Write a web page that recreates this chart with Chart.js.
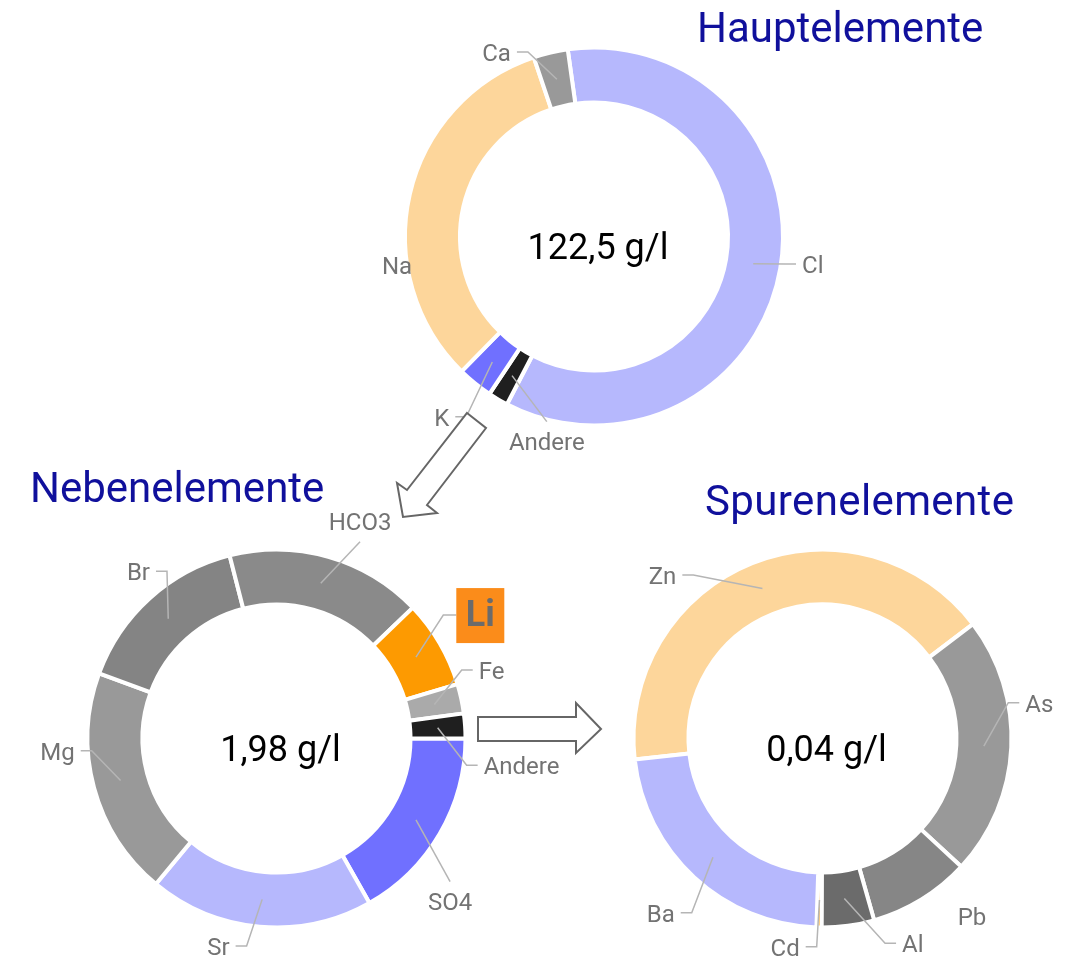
<!DOCTYPE html>
<html lang="de">
<head>
<meta charset="utf-8">
<title>Elemente</title>
<script src="https://cdn.jsdelivr.net/npm/chart.js@4.4.1/dist/chart.umd.min.js"></script>
<style>
  html, body { margin: 0; padding: 0; background: #fff; overflow: hidden; }
  body { width: 1066px; height: 963px; position: relative; font-family: Roboto, sans-serif; }
  canvas { position: absolute; }
  #c1 { left: 344px; top: 0px; }
  #c2 { left: 0px; top: 490px; }
  #c3 { left: 579px; top: 490px; }
  svg { position: absolute; left: 0; top: 0; pointer-events: none; }
</style>
</head>
<body>
<canvas id="c1" width="500" height="473"></canvas>
<canvas id="c2" width="620" height="497"></canvas>
<canvas id="c3" width="487" height="497"></canvas>

<svg width="1066" height="963" xmlns="http://www.w3.org/2000/svg">
  <g font-family="Roboto, sans-serif" font-size="42" fill="#10109c">
    <text x="697" y="42">Hauptelemente</text>
    <text x="30" y="502">Nebenelemente</text>
    <text x="705" y="515" textLength="309">Spurenelemente</text>
  </g>
  <g fill="#fff" stroke="#666" stroke-width="2" stroke-linejoin="miter">
    <polygon points="467,413 486,428 427,505 437,513 403,517 397,483 407,490"/>
    <polygon points="478,717 576,717 576,703 601,729 576,753 576,741 478,741"/>
  </g>
</svg>

<script>
// Hauptelemente (g/l)
const hauptLabels = ['Cl', 'Andere', 'K', 'Na', 'Ca'];
const hauptValues = [73.3, 2.1, 3.7, 39.8, 3.6];
const hauptTotal = '122,5 g/l';

// Nebenelemente (g/l)
const nebenLabels = ['SO4', 'Sr', 'Mg', 'Br', 'HCO3', 'Li', 'Fe', 'Andere'];
const nebenValues = [0.333, 0.380, 0.388, 0.305, 0.333, 0.149, 0.050, 0.042];
const nebenTotal = '1,98 g/l';

// Spurenelemente (mg/l)
const spurenLabels = ['Zn', 'As', 'Pb', 'Al', 'Cd', 'Ba'];
const spurenValues = [16.6, 8.9, 3.5, 1.8, 0.17, 9.1];
const spurenTotal = '0,04 g/l';

// Farben
const hauptColors = ['#b6b8fd', '#1f1f1f', '#7070ff', '#fdd69b', '#999999'];
const nebenColors = ['#7070ff', '#b6b8fd', '#999999', '#848484', '#8a8a8a', '#fd9a01', '#aaaaaa', '#1f1f1f'];
const spurenColors = ['#fdd69b', '#999999', '#868686', '#6b6b6b', '#fd9a01', '#b6b8fd'];

// Beschriftungen: [Winkel ab 12 Uhr, Radius, Art]
const hauptLayout = {
    Cl: [98.2, 193, 'right'],
    Andere: [194.3, 191, 'below'],
    K: [215.3, 221, 'left'],
    Na: [261.8, 199, 'free'],
    Ca: [340.3, 196, 'left']
};
const nebenLayout = {
    SO4: [129.5, 225, 'below'],
    Sr: [188.2, 209.6, 'left'],
    Mg: [266.2, 185.2, 'left'],
    Br: [326.8, 200, 'left'],
    HCO3: [23, 213.8, 'above'],
    Li: [53.5, 207.5, 'box'],
    Fe: [69.7, 197.5, 'right'],
    Andere: [98, 192, 'right']
};
const spurenLayout = {
    Zn: [321.7, 208.4, 'left'],
    As: [79.1, 189.2, 'right'],
    Pb: [139.9, 232, 'free'],
    Al: [163, 214, 'right'],
    Cd: [181.6, 208.3, 'left'],
    Ba: [216.9, 217.8, 'left']
};

const labelFont = '24px Roboto, sans-serif';
const labelColor = '#737373';
const lineColor = '#b5b5b5';

// Plugin: Führungslinien, Beschriftungen und Summe in der Mitte
const donutLabels = {
    id: 'donutLabels',
    afterDatasetsDraw(chart, args, opts) {
        const ctx = chart.ctx;
        const meta = chart.getDatasetMeta(0);
        const labels = chart.data.labels;
        let cx = 0, cy = 0;
        ctx.save();
        meta.data.forEach((arc, i) => {
            const p = arc.getProps(['x', 'y', 'startAngle', 'endAngle', 'innerRadius', 'outerRadius'], true);
            cx = p.x; cy = p.y;
            const spec = opts.layout[labels[i]];
            if (!spec) return;
            const [deg, r, mode] = spec;
            const a = (deg - 90) * Math.PI / 180;
            const ex = p.x + r * Math.cos(a);
            const ey = p.y + r * Math.sin(a);
            const mid = (p.startAngle + p.endAngle) / 2;
            const rm = (p.innerRadius + p.outerRadius) / 2;
            const ax = p.x + rm * Math.cos(mid);
            const ay = p.y + rm * Math.sin(mid);

            ctx.font = labelFont;
            ctx.fillStyle = labelColor;
            ctx.textBaseline = 'middle';

            if (mode === 'free') {
                ctx.textAlign = 'center';
                ctx.fillText(labels[i], ex, ey + 3);
                return;
            }

            ctx.strokeStyle = lineColor;
            ctx.lineWidth = 1.5;
            ctx.beginPath();
            ctx.moveTo(ax, ay);
            ctx.lineTo(ex, ey);
            if (mode === 'left') ctx.lineTo(ex - 11, ey);
            if (mode === 'right') ctx.lineTo(ex + 11, ey);
            if (mode === 'box') ctx.lineTo(ex + 13, ey);
            ctx.stroke();

            if (mode === 'left') {
                ctx.textAlign = 'right';
                ctx.fillText(labels[i], ex - 17, ey + 3);
            } else if (mode === 'right') {
                ctx.textAlign = 'left';
                ctx.fillText(labels[i], ex + 17, ey + 3);
            } else if (mode === 'above') {
                ctx.textAlign = 'center';
                ctx.fillText(labels[i], ex, ey - 18);
            } else if (mode === 'below') {
                ctx.textAlign = 'center';
                ctx.fillText(labels[i], ex, ey + 22);
            } else if (mode === 'box') {
                ctx.fillStyle = '#fb8c1a';
                ctx.fillRect(ex + 13, ey - 27, 48, 55);
                ctx.fillStyle = '#6b6b6b';
                ctx.font = 'bold 36px Roboto, sans-serif';
                ctx.textAlign = 'center';
                ctx.fillText(labels[i], ex + 37, ey + 2);
            }
        });

        ctx.fillStyle = '#000';
        ctx.font = '36px Roboto, sans-serif';
        ctx.textAlign = 'center';
        ctx.textBaseline = 'alphabetic';
        ctx.fillText(opts.total, cx + 4, cy + 22);
        ctx.restore();
    }
};

function makeDonut(id, labels, values, colors, rotation, layout, total, padRight) {
    const ctx = document.getElementById(id).getContext('2d');
    return new Chart(ctx, {
        type: 'doughnut',
        data: {
            labels: labels,
            datasets: [{
                data: values,
                backgroundColor: colors,
                borderColor: '#ffffff',
                borderWidth: 4,
                hoverOffset: 0
            }]
        },
        options: {
            responsive: false,
            maintainAspectRatio: false,
            animation: false,
            events: [],
            radius: 189,
            cutout: '70.9%',
            rotation: rotation,
            layout: { padding: { left: 0, top: 0, bottom: 0, right: padRight } },
            plugins: {
                legend: { display: false },
                tooltip: { enabled: false },
                donutLabels: { layout: layout, total: total }
            }
        },
        plugins: [donutLabels]
    });
}

document.addEventListener('DOMContentLoaded', () => {
    makeDonut('c1', hauptLabels, hauptValues, hauptColors, -8, hauptLayout, hauptTotal, 0);
    makeDonut('c2', nebenLabels, nebenValues, nebenColors, 90, nebenLayout, nebenTotal, 67);
    makeDonut('c3', spurenLabels, spurenValues, spurenColors, -96.4, spurenLayout, spurenTotal, 0);
});
</script>
</body>
</html>
